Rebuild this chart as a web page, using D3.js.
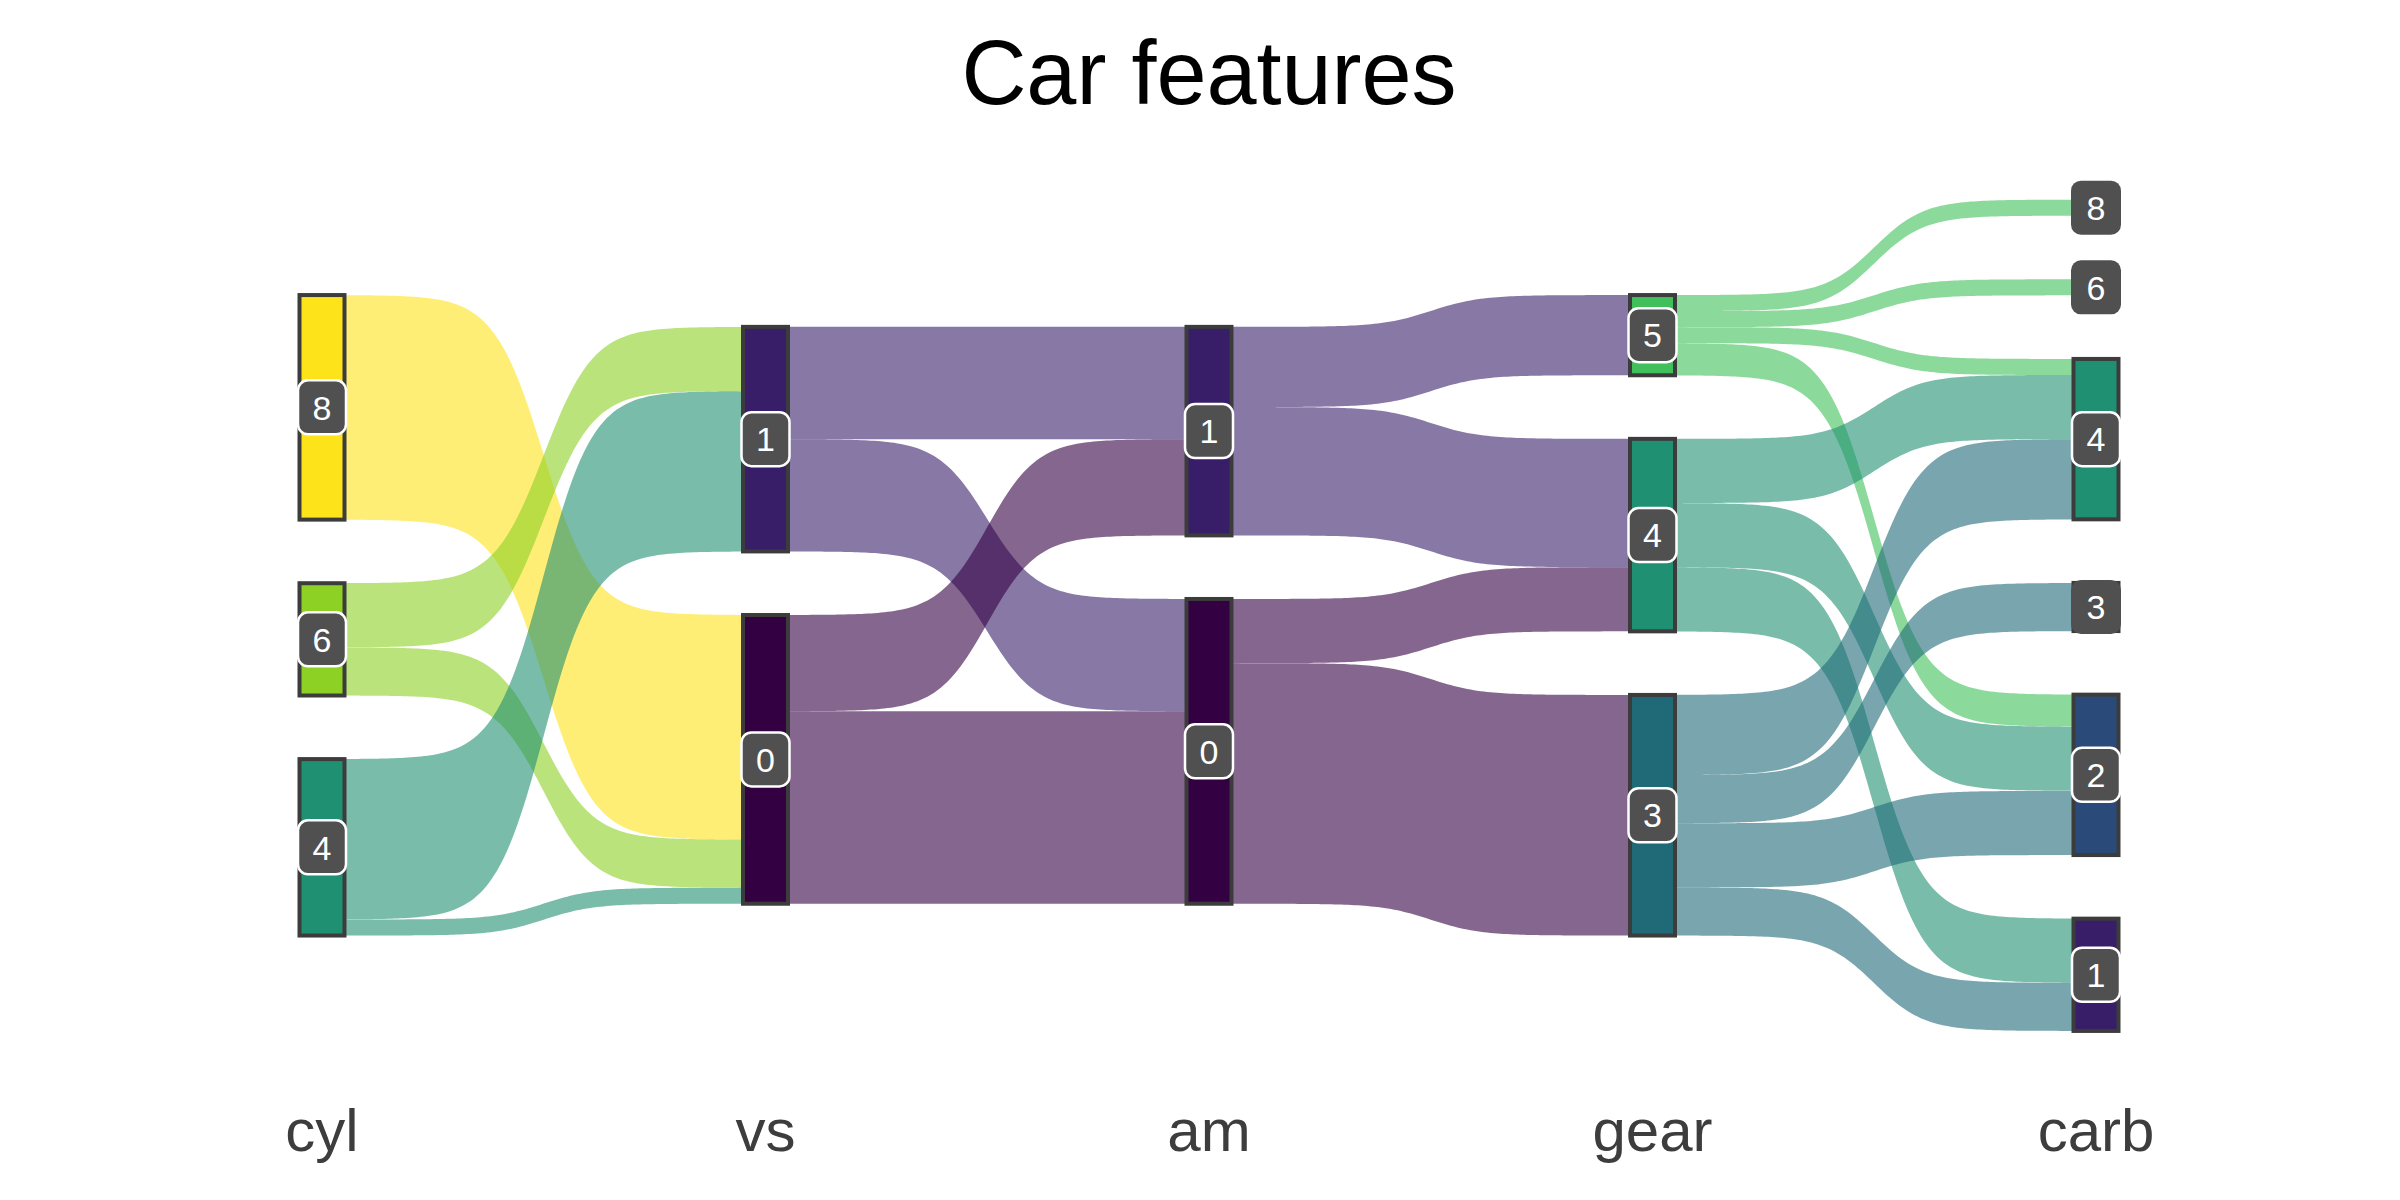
<!DOCTYPE html>
<html>
<head>
<meta charset="utf-8">
<script src="https://cdn.jsdelivr.net/npm/d3@7"></script>
<style>
  body { margin: 0; background: #fff; }
  text { font-family: "Liberation Sans", Arial, sans-serif; }
</style>
</head>
<body>
<div class="container"></div>
<script>
  var width = 2400,
    height = 1200;

  // stages and node order (top to bottom)
  var stages = ["cyl", "vs", "am", "gear", "carb"];
  var cylNodes = ["8", "6", "4"];
  var vsNodes = ["1", "0"];
  var amNodes = ["1", "0"];
  var gearNodes = ["5", "4", "3"];
  var carbNodes = ["8", "6", "4", "3", "2", "1"];

  // flows between stages: [from, to, count]
  var cylVs = [["8", "0", 14], ["6", "1", 4], ["6", "0", 3], ["4", "1", 10], ["4", "0", 1]];
  var vsAm = [["1", "1", 7], ["1", "0", 7], ["0", "1", 6], ["0", "0", 12]];
  var amGear = [["1", "5", 5], ["1", "4", 8], ["0", "4", 4], ["0", "3", 15]];
  var gearCarb = [["5", "8", 1], ["5", "6", 1], ["5", "4", 1], ["5", "2", 2],
    ["4", "4", 4], ["4", "2", 4], ["4", "1", 4],
    ["3", "4", 5], ["3", "3", 3], ["3", "2", 4], ["3", "1", 3]];

  var nodeColors = {
    "0": "#330042", "1": "#381e69", "2": "#2a4a7a", "3": "#206a78",
    "4": "#1f9072", "5": "#40bf5a", "6": "#8cd124", "8": "#fde31a"
  };

  var columns = [cylNodes, vsNodes, amNodes, gearNodes, carbNodes];
  var flows = [cylVs, vsAm, amGear, gearCarb];

  var gap = 3.965,
    unit = 16.04,
    centerY = 615.3,
    nodeW = 45;

  var x = d3.scalePoint().domain(stages).range([322, 2096]);
  var y = d3.scaleLinear().domain([-20, 20]).range([centerY - 20 * unit, centerY + 20 * unit]);

  // node sizes
  var nodes = [];
  columns.forEach(function(col, ci) {
    var sizes = col.map(function(v) {
      var list = ci < flows.length ? flows[ci] : flows[ci - 1];
      var idx = ci < flows.length ? 0 : 1;
      return d3.sum(list.filter(function(f) { return f[idx] === v; }), function(f) { return f[2]; });
    });
    var total = d3.sum(sizes) + gap * (col.length - 1);
    var pos = -total / 2;
    col.forEach(function(v, i) {
      nodes.push({ stage: ci, value: v, size: sizes[i], u0: pos, u1: pos + sizes[i], outPos: pos, inPos: pos });
      pos += sizes[i] + gap;
    });
  });

  function findNode(ci, v) {
    return nodes.find(function(n) { return n.stage === ci && n.value === v; });
  }

  // links, sorted like a standard sankey
  var links = [];
  flows.forEach(function(list, ci) {
    var srcOrder = columns[ci], tgtOrder = columns[ci + 1];
    var byOut = list.slice().sort(function(a, b) {
      return srcOrder.indexOf(a[0]) - srcOrder.indexOf(b[0]) || tgtOrder.indexOf(a[1]) - tgtOrder.indexOf(b[1]);
    });
    byOut.forEach(function(f) {
      var s = findNode(ci, f[0]);
      var l = { stage: ci, from: f[0], to: f[1], n: f[2], s0: s.outPos, s1: s.outPos + f[2] };
      s.outPos += f[2];
      links.push(l);
    });
    var byIn = links.filter(function(l) { return l.stage === ci; }).sort(function(a, b) {
      return tgtOrder.indexOf(a.to) - tgtOrder.indexOf(b.to) || srcOrder.indexOf(a.from) - srcOrder.indexOf(b.from);
    });
    byIn.forEach(function(l) {
      var t = findNode(ci + 1, l.to);
      l.t0 = t.inPos;
      l.t1 = t.inPos + l.n;
      t.inPos += l.n;
    });
  });

  var svg = d3.select(".container").append("svg")
    .attr("width", width)
    .attr("height", height);

  // sigmoid link shape
  var smooth = 8, steps = 120;
  function linkPath(l) {
    var xa = x(stages[l.stage]) + nodeW / 2,
      xb = x(stages[l.stage + 1]) - nodeW / 2;
    var top = [], bottom = [];
    for (var i = 0; i <= steps; i++) {
      var t = -smooth + 2 * smooth * i / steps;
      var s = Math.exp(t) / (Math.exp(t) + 1);
      var px = xa + (xb - xa) * i / steps;
      top.push([px, y(l.s0 + s * (l.t0 - l.s0))]);
      bottom.push([px, y(l.s1 + s * (l.t1 - l.s1))]);
    }
    return d3.line()(top.concat(bottom.reverse())) + "Z";
  }

  svg.append("g").selectAll("path")
    .data(links)
    .enter().append("path")
    .attr("d", linkPath)
    .attr("fill", function(d) { return nodeColors[d.from]; })
    .attr("fill-opacity", 0.6);

  svg.append("g").selectAll("rect")
    .data(nodes)
    .enter().append("rect")
    .attr("x", function(d) { return x(stages[d.stage]) - nodeW / 2; })
    .attr("y", function(d) { return y(d.u0); })
    .attr("width", nodeW)
    .attr("height", function(d) { return y(d.u1) - y(d.u0); })
    .attr("fill", function(d) { return nodeColors[d.value]; })
    .attr("stroke", "#3c3c3c")
    .attr("stroke-width", 4);

  // node labels
  var labW = 48, labH = 54;
  var label = svg.append("g").selectAll("g")
    .data(nodes)
    .enter().append("g")
    .attr("transform", function(d) {
      return "translate(" + x(stages[d.stage]) + "," + y((d.u0 + d.u1) / 2) + ")";
    });

  label.append("rect")
    .attr("x", function(d) { return (y(d.u1) - y(d.u0)) > labH ? -labW / 2 : -labW / 2 - 1; })
    .attr("y", -labH / 2)
    .attr("width", function(d) { return (y(d.u1) - y(d.u0)) > labH ? labW : labW + 2; })
    .attr("height", labH)
    .attr("rx", 10)
    .attr("fill", "#505050")
    .attr("stroke", function(d) { return (y(d.u1) - y(d.u0)) > labH ? "#fff" : "none"; })
    .attr("stroke-width", 2.5);

  label.append("text")
    .attr("text-anchor", "middle")
    .attr("dy", "0.36em")
    .attr("fill", "#fff")
    .style("font-size", "34px")
    .text(function(d) { return d.value; });

  // axis labels
  svg.append("g").selectAll("text")
    .data(stages)
    .enter().append("text")
    .attr("x", function(d) { return x(d); })
    .attr("y", 1151)
    .attr("text-anchor", "middle")
    .attr("fill", "#3d3d3d")
    .style("font-size", "60px")
    .text(function(d) { return d; });

  svg.append("text")
    .attr("x", 1209)
    .attr("y", 104)
    .attr("text-anchor", "middle")
    .attr("fill", "#000")
    .style("font-size", "90px")
    .text("Car features");
</script>
</body>
</html>
